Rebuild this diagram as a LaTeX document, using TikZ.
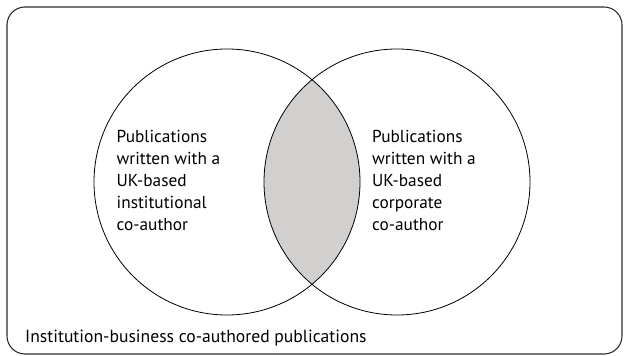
\documentclass[tikz,border=0pt]{standalone}
\usepackage{fontspec}
\setmainfont{PT Sans}
\definecolor{LensClr}{RGB}{210,207,207}
\definecolor{EdgeClr}{RGB}{45,45,45}

\tikzset{
  setcircle/.style={circle,draw=black,line width=0.8pt,minimum size=266pt,inner sep=0pt},
  setlabel/.style={align=left,anchor=north west,inner sep=0pt,font=\fontsize{17.3}{22}\selectfont}
}

\begin{document}
\begin{tikzpicture}[x=1pt,y=1pt]
\useasboundingbox (0,0) rectangle (624,356);

% outer box
\draw[EdgeClr,line width=1.1pt,rounded corners=18pt] (7,2) rectangle (622,349);

\coordinate (I) at (227,174);
\coordinate (C) at (397,174);

% overlap
\begin{scope}
\clip (I) circle (133);
\fill[LensClr] (C) circle (133);
\end{scope}

\node[setcircle] (inst) at (I) {};
\node[setcircle] (corp) at (C) {};

\node[setlabel] (instlabel) at (116.5,225.5) {Publications\\written with a\\UK-based\\institutional\\co-author};
\node[setlabel] (corplabel) at (372,225.5) {Publications\\written with a\\UK-based\\corporate\\co-author};

\node[anchor=base west,inner sep=0pt,font=\fontsize{17.6}{22}\selectfont] (boxlabel) at (25,13) {Institution-business co-authored publications};

\end{tikzpicture}
\end{document}
